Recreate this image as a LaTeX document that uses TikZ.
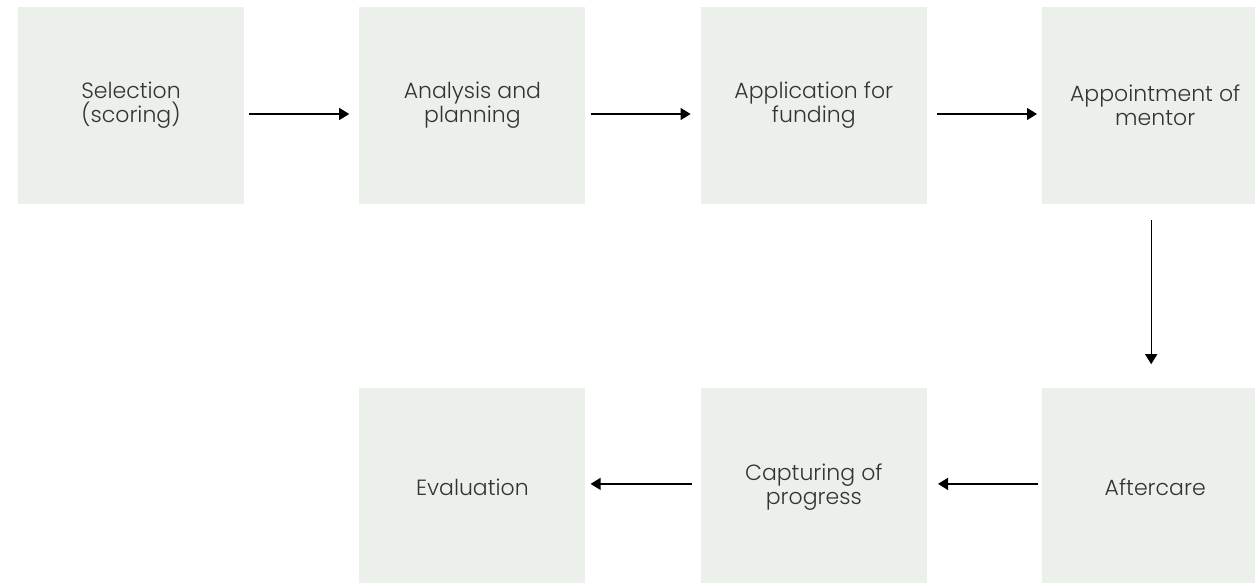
\documentclass[tikz,border=0pt]{standalone}
\usepackage{fontspec}
\setmainfont{Poppins}[UprightFont=* Light]
\usepackage{tikz}
\usetikzlibrary{arrows.meta, positioning}
\definecolor{boxfill}{HTML}{ECF0EA}
\definecolor{textgrey}{HTML}{333333}
\tikzstyle{stage} = [rectangle, fill=boxfill, minimum width=226pt, minimum height=197pt, inner sep=0pt, align=center, text=textgrey, font=\fontsize{22}{24}\selectfont]
\tikzstyle{arrow} = [line width=1.3pt, -{Triangle[length=10pt, width=12pt]}]

\begin{document}
\begin{tikzpicture}[x=1pt, y=1pt, node distance = 115pt and 115pt]
	\useasboundingbox (0,0) rectangle (1255,-583);
	\node (Selection) [stage] at (131,-105.5) {Selection\\(scoring)};
	\node (Analysis) [stage, right = of Selection] {Analysis and\\planning};
	\node (Funding) [stage, right = of Analysis] {Application for\\funding};
	\node (Mentor) [stage, right = of Funding] {Appointment of\\mentor};
	\node (Aftercare) [stage, below = 184pt of Mentor] {Aftercare};
	\node (Progress) [stage, left = of Aftercare] {Capturing of\\progress};
	\node (Evaluation) [stage, left = of Progress] {Evaluation};
	% top row runs a little below the box middles
	\draw [arrow, shorten <=5pt, shorten >=10pt] ([yshift=-8.5pt]Selection.east) -- ([yshift=-8.5pt]Analysis.west);
	\draw [arrow, shorten <=5pt, shorten >=10pt] ([yshift=-8.5pt]Analysis.east) -- ([yshift=-8.5pt]Funding.west);
	\draw [arrow, shorten <=10pt, shorten >=5pt] ([yshift=-8.5pt]Funding.east) -- ([yshift=-8.5pt]Mentor.west);
	\draw [arrow, shorten <=16pt, shorten >=24pt] ([xshift=-4pt]Mentor.south) -- ([xshift=-4pt]Aftercare.north);
	\draw [arrow, shorten <=4pt, shorten >=11pt] ([yshift=3pt]Aftercare.west) -- ([yshift=3pt]Progress.east);
	\draw [arrow, shorten <=9pt, shorten >=5pt] ([yshift=3pt]Progress.west) -- ([yshift=3pt]Evaluation.east);
\end{tikzpicture}
\end{document}
